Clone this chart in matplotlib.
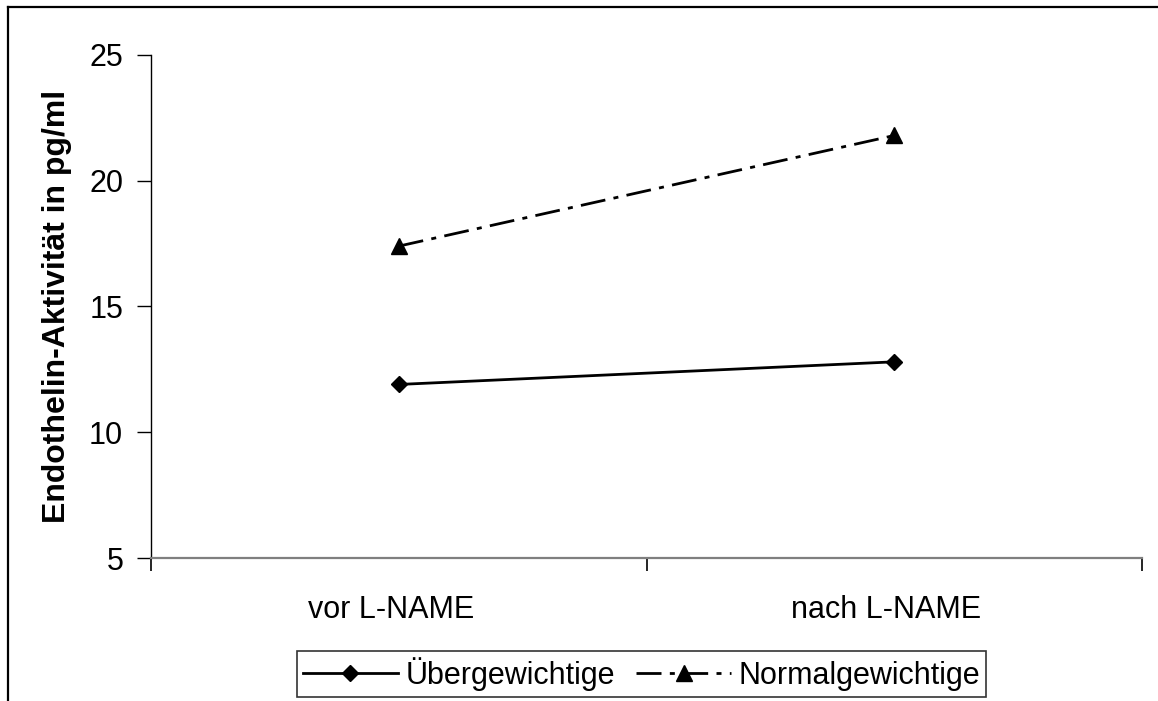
import matplotlib
matplotlib.use("Agg")
import matplotlib.pyplot as plt
from matplotlib.lines import Line2D
from matplotlib.transforms import ScaledTranslation

# Endothelin-Aktivität vor/nach L-NAME
categories = ["vor L-NAME", "nach L-NAME"]
uebergewichtige = [11.9, 12.8]
normalgewichtige = [17.4, 21.8]
y_ticks = [5, 10, 15, 20, 25]

plt.rcParams['font.family'] = ['Liberation Sans', 'DejaVu Sans']

fig = plt.figure(figsize=(11.58, 7.01), dpi=100)
ax = fig.add_axes([151 / 1158, 1 - 558 / 701, 991 / 1158, 503 / 701])

x = [0.5, 1.5]
ax.plot(x, uebergewichtige, color='black', lw=2, marker='D', ms=8.5,
        label='Übergewichtige')
ax.plot(x, normalgewichtige, color='black', lw=2, marker='^', ms=12,
        linestyle=(0, (9, 3, 1.8, 3)), label='Normalgewichtige')

ax.set_xlim(0, 2)
ax.set_ylim(5, 25)
ax.set_yticks(y_ticks)
ax.set_xticks([0, 1, 2])
ax.set_xticklabels([])
ax.set_xticks(x, minor=True)
ax.set_xticklabels(categories, minor=True)
ax.tick_params(axis='x', which='minor', length=0, pad=27, labelsize=22)
ax.tick_params(axis='x', which='major', length=9, width=1.2, direction='out')
ax.tick_params(axis='y', length=10, width=1, direction='out', pad=10, labelsize=22)

# category labels sit a little left of the category centre
shift = ScaledTranslation(-8 / 100, 0, fig.dpi_scale_trans)
for lbl in ax.get_xticklabels(minor=True):
    lbl.set_transform(lbl.get_transform() + shift)

for s in ('top', 'right'):
    ax.spines[s].set_visible(False)
ax.spines['left'].set_color('black')
ax.spines['left'].set_linewidth(1)
ax.spines['bottom'].set_color('#7f7f7f')
ax.spines['bottom'].set_linewidth(1.6)

ax.set_ylabel('Endothelin-Aktivität in pg/ml', fontsize=23, fontweight='bold',
              va='center')
ax.yaxis.set_label_coords(-0.095, 0.5)

leg = fig.legend(loc='lower center', bbox_to_anchor=(0.554, 0.006), ncol=2,
                 fontsize=22, frameon=True, fancybox=False, handlelength=3.1,
                 handletextpad=0.25, columnspacing=0.7, borderpad=0.2,
                 borderaxespad=0)
leg.get_frame().set_edgecolor('black')
leg.get_frame().set_linewidth(1.2)

# outer chart border (top and left edges)
fig.add_artist(Line2D([8 / 1158, 1], [1 - 7 / 701, 1 - 7 / 701],
                      transform=fig.transFigure, color='black', lw=1.6))
fig.add_artist(Line2D([8 / 1158, 8 / 1158], [0, 1 - 7 / 701],
                      transform=fig.transFigure, color='black', lw=1.6))

fig.savefig('out.png', dpi=100)
